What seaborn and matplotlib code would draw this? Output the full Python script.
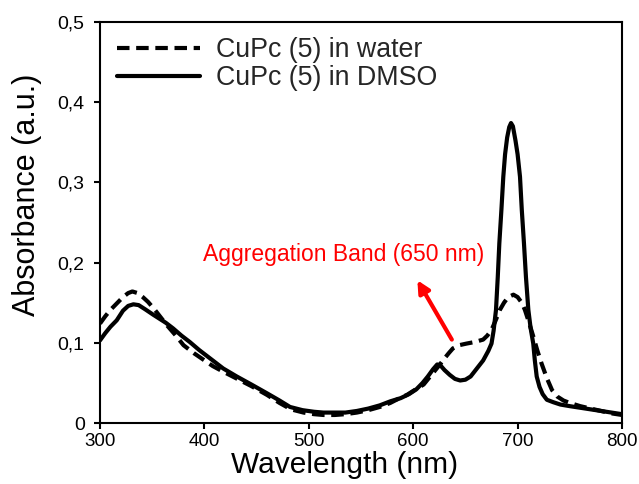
import matplotlib
matplotlib.use("Agg")
import matplotlib.pyplot as plt
import seaborn as sns
import numpy as np
import pandas as pd
from matplotlib.ticker import FuncFormatter

# ---- data ----
dmso_wl = [300, 305, 310, 316, 322, 327, 332, 337, 343, 351, 357, 363, 370, 378, 386, 395,
           405, 418, 431, 445, 460, 472, 482, 494, 505, 514, 525, 535, 546, 557, 568, 578,
           588, 596, 603, 609, 614, 619, 623, 626, 630, 635, 640, 645, 650, 655, 661, 667,
           672, 675, 677, 679.3, 681, 682.5, 684.5, 686.3, 688, 690, 692, 693.7, 695.5, 698,
           700, 702.3, 704, 706.1, 708, 710.3, 712.5, 715, 716.5, 718.3, 721, 724, 728, 734,
           741, 750, 760, 770, 780, 790, 800]
dmso_abs = [0.103, 0.112, 0.120, 0.128, 0.140, 0.146, 0.148, 0.147, 0.142, 0.135, 0.130, 0.125,
            0.118, 0.109, 0.101, 0.091, 0.081, 0.068, 0.058, 0.048, 0.037, 0.028, 0.020, 0.016,
            0.014, 0.013, 0.013, 0.013, 0.015, 0.018, 0.022, 0.027, 0.031, 0.036, 0.042, 0.050,
            0.058, 0.067, 0.073, 0.072, 0.066, 0.060, 0.055, 0.053, 0.054, 0.058, 0.068, 0.078,
            0.090, 0.099, 0.115, 0.141, 0.182, 0.224, 0.266, 0.307, 0.335, 0.356, 0.369, 0.374,
            0.370, 0.352, 0.335, 0.307, 0.266, 0.224, 0.182, 0.141, 0.118, 0.099, 0.078, 0.058,
            0.045, 0.036, 0.029, 0.026, 0.023, 0.021, 0.019, 0.017, 0.015, 0.013, 0.011]

water_wl = [300, 305, 310, 316, 322, 327, 331, 336, 341, 346, 352, 358, 364, 372, 380, 390,
            399, 408, 418, 430, 445, 460, 472, 483, 495, 505, 514, 525, 535, 546, 557, 568,
            578, 587, 594, 600, 605, 610, 615, 620, 625, 629, 634, 638, 644, 651, 659, 667,
            671, 675, 679, 683, 687, 691, 696, 700, 704, 707, 711, 715, 719, 723, 728, 733,
            738, 744, 750, 760, 770, 780, 790, 800]
water_abs = [0.124, 0.133, 0.141, 0.149, 0.157, 0.162, 0.164, 0.162, 0.157, 0.151, 0.142, 0.132,
             0.122, 0.110, 0.097, 0.087, 0.079, 0.071, 0.064, 0.056, 0.046, 0.035, 0.025, 0.017,
             0.013, 0.011, 0.010, 0.010, 0.011, 0.013, 0.016, 0.020, 0.025, 0.031, 0.035, 0.040,
             0.044, 0.048, 0.056, 0.064, 0.072, 0.079, 0.087, 0.093, 0.097, 0.099, 0.101, 0.104,
             0.109, 0.116, 0.128, 0.141, 0.150, 0.157, 0.160, 0.157, 0.150, 0.141, 0.125, 0.108,
             0.090, 0.074, 0.056, 0.041, 0.033, 0.028, 0.025, 0.021, 0.018, 0.015, 0.012, 0.010]

series_labels = ["CuPc (5) in water", "CuPc (5) in DMSO"]
x_ticks = [300, 400, 500, 600, 700, 800]
y_ticks = [0, 0.1, 0.2, 0.3, 0.4, 0.5]
annot_text = "Aggregation Band (650 nm)"
annot_pos = (533, 0.210)
arrow_tail = (637, 0.104)
arrow_head = (604, 0.178)

# ---- style ----
sns.set_theme(style="white")
plt.rcParams["font.family"] = ["Liberation Sans", "DejaVu Sans"]

fig = plt.figure(figsize=(6.39, 4.84), dpi=100)
ax = fig.add_axes([100 / 639, 1 - 423 / 484, 522 / 639, 401 / 484])

sns.lineplot(x=water_wl, y=water_abs, ax=ax, color="black", lw=3,
             linestyle=(0, (3, 1.6)), label=series_labels[0], errorbar=None)
sns.lineplot(x=dmso_wl, y=dmso_abs, ax=ax, color="black", lw=3,
             linestyle="-", label=series_labels[1], errorbar=None)

ax.set_xlim(300, 800)
ax.set_ylim(0, 0.5)
ax.set_xticks(x_ticks)
ax.set_yticks(y_ticks)
ax.yaxis.set_major_formatter(FuncFormatter(lambda v, p: ("%g" % round(v, 2)).replace(".", ",")))

for s in ax.spines.values():
    s.set_visible(True)
    s.set_color("black")
    s.set_linewidth(1.5)

ax.tick_params(axis="both", direction="out", length=4, width=1.5, colors="black",
               labelsize=14, left=True, bottom=True)
ax.tick_params(axis="x", pad=3, labelsize=13.5)
ax.tick_params(axis="y", pad=7)

ax.set_xlabel("Wavelength (nm)", fontsize=21.5, color="black")
ax.set_ylabel("Absorbance (a.u.)", fontsize=22, color="black")
ax.xaxis.set_label_coords(0.469, -0.069)
ax.yaxis.set_label_coords(-0.112, 0.57)

ax.annotate("", xy=arrow_head, xytext=arrow_tail,
            arrowprops=dict(arrowstyle="-|>", color="red", lw=3, mutation_scale=18,
                            shrinkA=0, shrinkB=0))
ax.text(annot_pos[0], annot_pos[1], annot_text, color="red", fontsize=16.5,
        ha="center", va="center")

handles, labels = ax.get_legend_handles_labels()
leg = ax.legend(handles, labels, loc="upper left", bbox_to_anchor=(0.032, 0.962),
                frameon=False, fontsize=19.3, handlelength=3.1, handletextpad=0.6,
                labelspacing=0.07, borderpad=0, borderaxespad=0)
for h in leg.legend_handles:
    h.set_linewidth(3)

fig.savefig("out.png", dpi=100, facecolor="white")
